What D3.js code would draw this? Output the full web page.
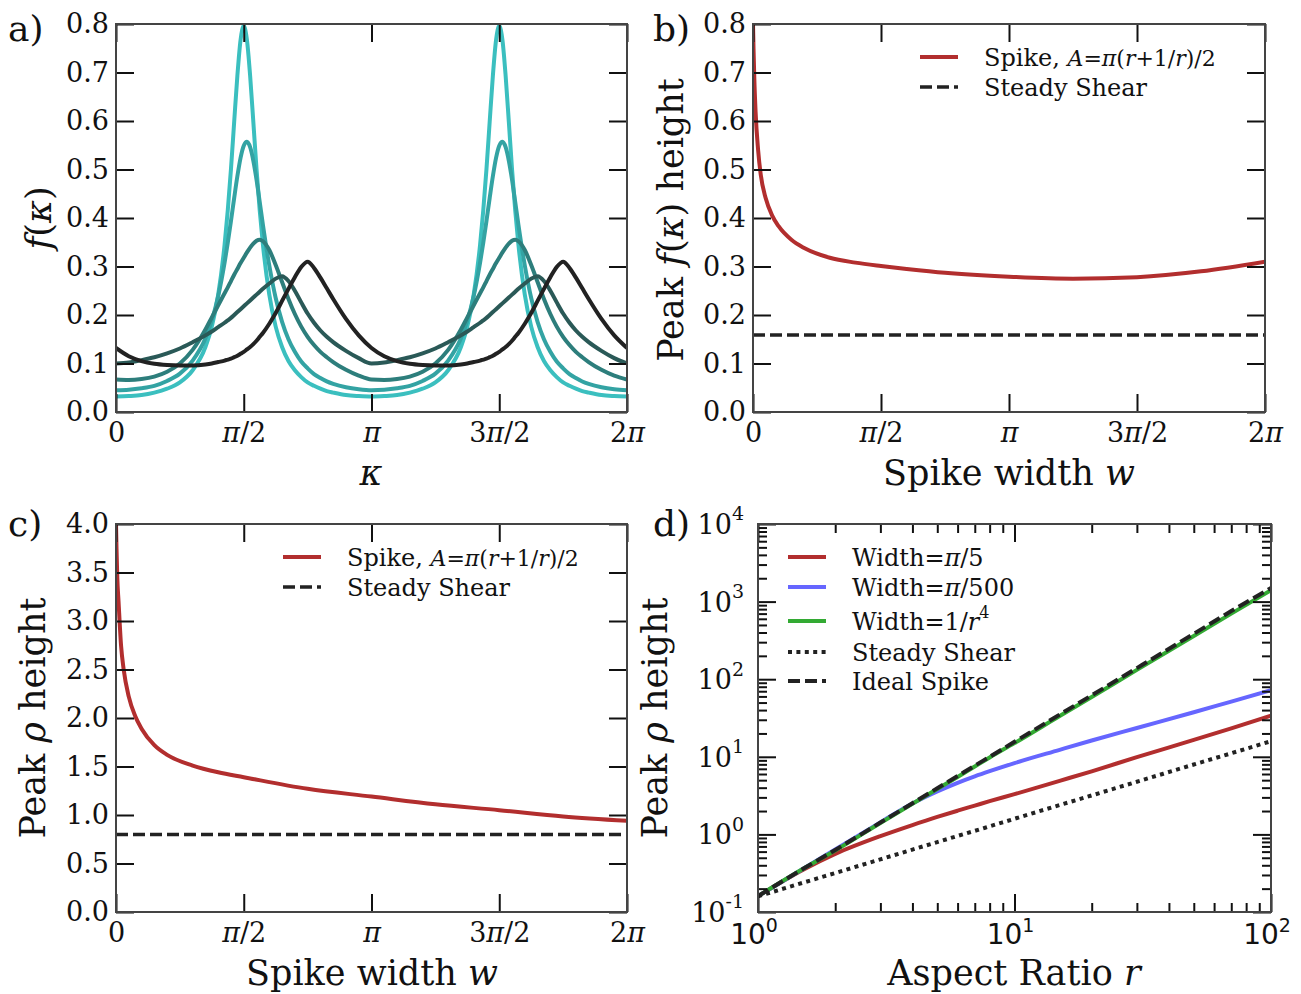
<!DOCTYPE html>
<html>
<head>
<meta charset="utf-8">
<script src="https://cdn.jsdelivr.net/npm/d3@7"></script>
<style>
  body { margin: 0; background: #fff; }
  svg text { font-family: "DejaVu Serif", serif; fill: #111; }
</style>
</head>
<body>
<svg id="chart" width="1301" height="994"></svg>
<script>
const PI = Math.PI;

// ---- a) f(kappa) over one period, kappa in units of pi ----
const kappa = [0, 0.05, 0.1, 0.15, 0.2, 0.25, 0.3, 0.35, 0.375, 0.4, 0.425, 0.4375, 0.45, 0.4625, 0.475, 0.4875, 0.5,
  0.5125, 0.525, 0.5375, 0.55, 0.5625, 0.575, 0.6, 0.625, 0.65, 0.675, 0.7, 0.725, 0.75, 0.775, 0.8, 0.825, 0.85, 0.9, 0.95, 1.0];
const fA1 = [0.032, 0.033, 0.035, 0.040, 0.048, 0.061, 0.086, 0.134, 0.176, 0.242, 0.345, 0.416, 0.501, 0.598, 0.693, 0.767, 0.796,
  0.767, 0.693, 0.598, 0.501, 0.416, 0.345, 0.242, 0.176, 0.134, 0.105, 0.086, 0.072, 0.061, 0.054, 0.048, 0.043, 0.040, 0.035, 0.033, 0.032];
const fA2 = [0.045, 0.046, 0.049, 0.054, 0.064, 0.079, 0.106, 0.152, 0.189, 0.239, 0.308, 0.349, 0.394, 0.441, 0.486, 0.524, 0.549,
  0.557, 0.546, 0.518, 0.479, 0.433, 0.386, 0.302, 0.235, 0.186, 0.150, 0.124, 0.104, 0.090, 0.078, 0.070, 0.063, 0.058, 0.051, 0.047, 0.045];
const fA3 = [0.067, 0.066, 0.068, 0.073, 0.083, 0.100, 0.128, 0.170, 0.195, 0.220, 0.245, 0.257, 0.270, 0.283, 0.295, 0.307, 0.318,
  0.329, 0.339, 0.347, 0.353, 0.355, 0.352, 0.334, 0.303, 0.268, 0.233, 0.202, 0.176, 0.155, 0.138, 0.124, 0.113, 0.103, 0.087, 0.075, 0.067];
const fA4 = [0.100, 0.102, 0.107, 0.113, 0.121, 0.131, 0.144, 0.158, 0.166, 0.175, 0.184, 0.189, 0.194, 0.200, 0.206, 0.212, 0.218,
  0.224, 0.230, 0.236, 0.242, 0.248, 0.254, 0.265, 0.275, 0.280, 0.270, 0.250, 0.226, 0.203, 0.184, 0.168, 0.155, 0.144, 0.126, 0.111, 0.100];
const fA5 = [0.132, 0.115, 0.105, 0.0995, 0.097, 0.096, 0.096, 0.098, 0.100, 0.103, 0.106, 0.108, 0.110, 0.113, 0.116, 0.120, 0.124,
  0.129, 0.134, 0.140, 0.147, 0.155, 0.163, 0.182, 0.204, 0.229, 0.254, 0.278, 0.299, 0.310, 0.297, 0.277, 0.255, 0.233, 0.192, 0.158, 0.132];
const seriesA = [fA1, fA2, fA3, fA4, fA5];
const colorsA = ["#3bbfbf", "#33a3a3", "#2d7e7c", "#2a5957", "#222222"];

// ---- b) peak f(kappa) vs spike width (w in units of pi) ----
const wB = [0, 0.002, 0.005, 0.01, 0.02, 0.03, 0.05, 0.075, 0.1, 0.15, 0.2, 0.3, 0.4, 0.5, 0.6, 0.75, 1.0, 1.25, 1.5, 1.75, 2.0];
const peakB = [0.80, 0.75, 0.69, 0.62, 0.54, 0.49, 0.44, 0.405, 0.383, 0.355, 0.338, 0.318, 0.308, 0.301, 0.295, 0.287, 0.279, 0.275, 0.278, 0.290, 0.310];
const steadyB = 0.159;

// ---- c) peak rho vs spike width (w in units of pi) ----
const wC = [0, 0.002, 0.005, 0.01, 0.02, 0.03, 0.05, 0.075, 0.1, 0.15, 0.2, 0.3, 0.4, 0.5, 0.75, 1.0, 1.25, 1.5, 1.75, 2.0];
const peakC = [4.0, 3.75, 3.45, 3.2, 2.74, 2.5, 2.22, 2.02, 1.89, 1.72, 1.62, 1.51, 1.44, 1.39, 1.27, 1.19, 1.11, 1.05, 0.985, 0.94];
const steadyC = 0.8;

// ---- d) peak rho vs aspect ratio ----
const rD = [1, 1.5, 2, 3, 4, 5, 6, 7, 8, 10, 15, 20, 30, 50, 70, 100];
const widthPi5 = [0.16, 0.35, 0.56, 0.95, 1.32, 1.68, 2.02, 2.35, 2.68, 3.3, 4.9, 6.5, 9.9, 16.5, 23.3, 34];
const widthPi500 = [0.16, 0.36, 0.64, 1.43, 2.5, 3.57, 4.61, 5.59, 6.52, 8.3, 12.3, 16.2, 23.5, 37.5, 51.5, 72];
const widthR4 = [0.16, 0.36, 0.62, 1.40, 2.48, 3.85, 5.5, 7.5, 9.8, 15.0, 33.5, 59, 132, 360, 700, 1400];
const steadyD = [0.159, 0.239, 0.318, 0.477, 0.637, 0.796, 0.955, 1.11, 1.27, 1.59, 2.39, 3.18, 4.77, 7.96, 11.1, 15.9];
const idealD = [0.16, 0.36, 0.63, 1.42, 2.52, 3.93, 5.65, 7.7, 10.0, 15.6, 35, 62, 139, 385, 755, 1500];

const piTicks = [0, PI / 2, PI, 3 * PI / 2, 2 * PI];
const piLabels = ["0", "π/2", "π", "3π/2", "2π"];

// ---- layout ----
const panels = {
  a: {left: 116, right: 627, top: 24, bottom: 412},
  b: {left: 753, right: 1265, top: 24, bottom: 412},
  c: {left: 116, right: 627, top: 524, bottom: 912},
  d: {left: 758, right: 1271, top: 524, bottom: 912}
};
const TICK = 18, MINOR = 9;
const LABEL = 35;

const svg = d3.select("#chart");
svg.append("rect").attr("width", 1301).attr("height", 994).attr("fill", "#fff");

function addClip(id, p) {
  svg.append("clipPath").attr("id", id).append("rect")
    .attr("x", p.left).attr("y", p.top)
    .attr("width", p.right - p.left).attr("height", p.bottom - p.top);
}

function styleAxis(g) {
  g.select(".domain").remove();
  g.selectAll(".tick line").attr("stroke", "#111").attr("stroke-width", 2);
  g.selectAll(".tick text").attr("fill", "#111").attr("font-size", 27)
    .attr("font-family", '"DejaVu Serif", serif');
}

// put the pi glyphs of tick labels in italic, as in math text
function italicPi(g) {
  g.selectAll(".tick text").each(function () {
    const t = d3.select(this);
    const s = t.text();
    if (s.indexOf("π") < 0) return;
    t.text(null);
    s.split(/(π)/).filter(q => q.length).forEach(q => {
      const ts = t.append("tspan").text(q);
      if (q === "π") ts.attr("font-style", "italic");
    });
  });
}

function frame(p) {
  svg.append("rect").attr("x", p.left).attr("y", p.top)
    .attr("width", p.right - p.left).attr("height", p.bottom - p.top)
    .attr("fill", "none").attr("stroke", "#444").attr("stroke-width", 2);
}

function linearAxes(p, x, y, yTicks, yFmt) {
  svg.append("g").attr("transform", `translate(0,${p.bottom})`)
    .call(d3.axisBottom(x).tickValues(piTicks).tickFormat((d, i) => piLabels[i])
      .tickSize(-TICK).tickSizeOuter(0).tickPadding(11))
    .call(styleAxis).call(italicPi);
  svg.append("g").attr("transform", `translate(0,${p.top})`)
    .call(d3.axisTop(x).tickValues(piTicks).tickFormat("").tickSize(-TICK).tickSizeOuter(0))
    .call(styleAxis);
  svg.append("g").attr("transform", `translate(${p.left},0)`)
    .call(d3.axisLeft(y).tickValues(yTicks).tickFormat(yFmt).tickSize(-TICK).tickSizeOuter(0).tickPadding(7))
    .call(styleAxis);
  svg.append("g").attr("transform", `translate(${p.right},0)`)
    .call(d3.axisRight(y).tickValues(yTicks).tickFormat("").tickSize(-TICK).tickSizeOuter(0))
    .call(styleAxis);
}

// text built from pieces: {t, i (italic), size, dy}
function richText(parts, attrs) {
  const t = svg.append("text");
  Object.entries(attrs).forEach(([k, v]) => t.attr(k, v));
  parts.forEach(pt => {
    const s = t.append("tspan").text(pt.t);
    if (pt.i) s.attr("font-style", "italic");
    if (pt.size) s.attr("font-size", pt.size);
    if (pt.dy) s.attr("dy", pt.dy);
    if (pt.family) s.attr("font-family", pt.family);
  });
  return t;
}

function legendRow(x, y, color, dash, width, parts) {
  svg.append("line").attr("x1", x).attr("x2", x + 38).attr("y1", y).attr("y2", y)
    .attr("stroke", color).attr("stroke-width", width)
    .attr("stroke-dasharray", dash || null);
  richText(parts, {x: x + 64, y: y, dy: "0.36em", "font-size": 24});
}

const spikeLabel = [{t: "Spike, "}, {t: "A", i: true, size: 22}, {t: "=", size: 22}, {t: "π", i: true, size: 22},
  {t: "(", size: 22}, {t: "r", i: true, size: 22}, {t: "+1/", size: 22}, {t: "r", i: true, size: 22}, {t: ")/2", size: 22}];

const lineGen = (x, y) => d3.line().x(d => x(d[0])).y(d => y(d[1])).curve(d3.curveMonotoneX);

// ================= panel a =================
{
  const p = panels.a;
  addClip("clipA", p);
  const x = d3.scaleLinear().domain([0, 2 * PI]).range([p.left, p.right]);
  const y = d3.scaleLinear().domain([0, 0.8]).range([p.bottom, p.top]);
  const gl = svg.append("g").attr("clip-path", "url(#clipA)");
  seriesA.forEach((vals, s) => {
    const pts = [];
    [0, 1].forEach(k => kappa.forEach((kk, i) => {
      if (k === 1 && i === 0) return;
      pts.push([(kk + k) * PI, vals[i]]);
    }));
    gl.append("path").datum(pts).attr("d", lineGen(x, y)).attr("fill", "none")
      .attr("stroke", colorsA[s]).attr("stroke-width", 4).attr("stroke-linejoin", "round");
  });
  linearAxes(p, x, y, d3.range(0, 0.81, 0.1), d3.format(".1f"));
  frame(p);
  richText([{t: "f", i: true}, {t: "("}, {t: "κ", i: true}, {t: ")"}],
    {transform: `translate(51,218) rotate(-90)`, "text-anchor": "middle", "font-size": LABEL});
  richText([{t: "κ", i: true}], {x: 371, y: 485, "text-anchor": "middle", "font-size": LABEL});
  richText([{t: "a)"}], {x: 8, y: 41, "font-size": 36});
}

// ================= panel b =================
{
  const p = panels.b;
  addClip("clipB", p);
  const x = d3.scaleLinear().domain([0, 2 * PI]).range([p.left, p.right]);
  const y = d3.scaleLinear().domain([0, 0.8]).range([p.bottom, p.top]);
  const gl = svg.append("g").attr("clip-path", "url(#clipB)");
  gl.append("path").datum(wB.map((w, i) => [w * PI, peakB[i]])).attr("d", lineGen(x, y))
    .attr("fill", "none").attr("stroke", "#b22e2e").attr("stroke-width", 4);
  gl.append("path").datum([[0, steadyB], [2 * PI, steadyB]]).attr("d", lineGen(x, y))
    .attr("fill", "none").attr("stroke", "#222").attr("stroke-width", 3.5).attr("stroke-dasharray", "12,5");
  linearAxes(p, x, y, d3.range(0, 0.81, 0.1), d3.format(".1f"));
  frame(p);
  legendRow(920, 57, "#b22e2e", null, 4, spikeLabel);
  legendRow(920, 87, "#222", "12,5", 3.5, [{t: "Steady Shear"}]);
  richText([{t: "Peak "}, {t: "f", i: true}, {t: "("}, {t: "κ", i: true}, {t: ") height"}],
    {transform: `translate(683,220) rotate(-90)`, "text-anchor": "middle", "font-size": LABEL});
  richText([{t: "Spike width "}, {t: "w", i: true}], {x: 1009, y: 485, "text-anchor": "middle", "font-size": LABEL});
  richText([{t: "b)"}], {x: 653, y: 41, "font-size": 36});
}

// ================= panel c =================
{
  const p = panels.c;
  addClip("clipC", p);
  const x = d3.scaleLinear().domain([0, 2 * PI]).range([p.left, p.right]);
  const y = d3.scaleLinear().domain([0, 4]).range([p.bottom, p.top]);
  const gl = svg.append("g").attr("clip-path", "url(#clipC)");
  gl.append("path").datum(wC.map((w, i) => [w * PI, peakC[i]])).attr("d", lineGen(x, y))
    .attr("fill", "none").attr("stroke", "#b22e2e").attr("stroke-width", 4);
  gl.append("path").datum([[0, steadyC], [2 * PI, steadyC]]).attr("d", lineGen(x, y))
    .attr("fill", "none").attr("stroke", "#222").attr("stroke-width", 3.5).attr("stroke-dasharray", "12,5");
  linearAxes(p, x, y, d3.range(0, 4.01, 0.5), d3.format(".1f"));
  frame(p);
  legendRow(283, 557, "#b22e2e", null, 4, spikeLabel);
  legendRow(283, 587, "#222", "12,5", 3.5, [{t: "Steady Shear"}]);
  richText([{t: "Peak "}, {t: "ρ", i: true}, {t: " height"}],
    {transform: `translate(45,718) rotate(-90)`, "text-anchor": "middle", "font-size": LABEL});
  richText([{t: "Spike width "}, {t: "w", i: true}], {x: 372, y: 985, "text-anchor": "middle", "font-size": LABEL});
  richText([{t: "c)"}], {x: 8, y: 536, "font-size": 36});
}

// ================= panel d =================
{
  const p = panels.d;
  addClip("clipD", p);
  const x = d3.scaleLog().domain([1, 100]).range([p.left, p.right]);
  const y = d3.scaleLog().domain([0.1, 1e4]).range([p.bottom, p.top]);
  const gl = svg.append("g").attr("clip-path", "url(#clipD)");
  const series = [
    {v: widthPi5, c: "#b22e2e", w: 4, dash: null},
    {v: widthPi500, c: "#6666ff", w: 4, dash: null},
    {v: widthR4, c: "#33aa33", w: 4, dash: null},
    {v: steadyD, c: "#222", w: 4, dash: "4,4.4"},
    {v: idealD, c: "#222", w: 4, dash: "12,5"}
  ];
  series.forEach(s => {
    gl.append("path").datum(rD.map((r, i) => [r, s.v[i]])).attr("d", lineGen(x, y))
      .attr("fill", "none").attr("stroke", s.c).attr("stroke-width", s.w)
      .attr("stroke-dasharray", s.dash);
  });

  const xMaj = [1, 10, 100];
  const xMin = [2, 3, 4, 5, 6, 7, 8, 9, 20, 30, 40, 50, 60, 70, 80, 90];
  const yMaj = [0.1, 1, 10, 100, 1000, 10000];
  const yMin = [];
  [0.1, 1, 10, 100, 1000].forEach(dec => d3.range(2, 10).forEach(m => yMin.push(dec * m)));

  [[d3.axisBottom, p.bottom], [d3.axisTop, p.top]].forEach(([ax, pos]) => {
    svg.append("g").attr("transform", `translate(0,${pos})`)
      .call(ax(x).tickValues(xMaj).tickFormat("").tickSize(-TICK).tickSizeOuter(0)).call(styleAxis);
    svg.append("g").attr("transform", `translate(0,${pos})`)
      .call(ax(x).tickValues(xMin).tickFormat("").tickSize(-MINOR).tickSizeOuter(0)).call(styleAxis);
  });
  [[d3.axisLeft, p.left], [d3.axisRight, p.right]].forEach(([ax, pos]) => {
    svg.append("g").attr("transform", `translate(${pos},0)`)
      .call(ax(y).tickValues(yMaj).tickFormat("").tickSize(-TICK).tickSizeOuter(0)).call(styleAxis);
    svg.append("g").attr("transform", `translate(${pos},0)`)
      .call(ax(y).tickValues(yMin).tickFormat("").tickSize(-MINOR).tickSizeOuter(0)).call(styleAxis);
  });
  frame(p);

  const xExp = ["0", "1", "2"];
  xMaj.forEach((v, i) => {
    richText([{t: "10", family: '"DejaVu Sans", sans-serif'},
      {t: xExp[i], size: 19, dy: "-0.62em", family: '"DejaVu Sans", sans-serif'}],
      {x: x(v) - 4, y: 944, "text-anchor": "middle", "font-size": 28});
  });
  const yExp = ["-1", "0", "1", "2", "3", "4"];
  yMaj.forEach((v, i) => {
    richText([{t: "10"}, {t: yExp[i], size: 19, dy: "-0.72em"}],
      {x: p.left - 14, y: y(v) + 10, "text-anchor": "end", "font-size": 27});
  });

  legendRow(788, 557, "#b22e2e", null, 4, [{t: "Width="}, {t: "π", i: true}, {t: "/5"}]);
  legendRow(788, 587, "#6666ff", null, 4, [{t: "Width="}, {t: "π", i: true}, {t: "/500"}]);
  legendRow(788, 621, "#33aa33", null, 4, [{t: "Width=1/"}, {t: "r", i: true}, {t: "4", size: 16, dy: "-0.7em"}]);
  legendRow(788, 652, "#222", "4,4.4", 4, [{t: "Steady Shear"}]);
  legendRow(788, 681, "#222", "12,5", 4, [{t: "Ideal Spike"}]);

  richText([{t: "Peak "}, {t: "ρ", i: true}, {t: " height"}],
    {transform: `translate(667,718) rotate(-90)`, "text-anchor": "middle", "font-size": LABEL});
  richText([{t: "Aspect Ratio "}, {t: "r", i: true}], {x: 1014, y: 985, "text-anchor": "middle", "font-size": LABEL});
  richText([{t: "d)"}], {x: 653, y: 536, "font-size": 36});
}
</script>
</body>
</html>
